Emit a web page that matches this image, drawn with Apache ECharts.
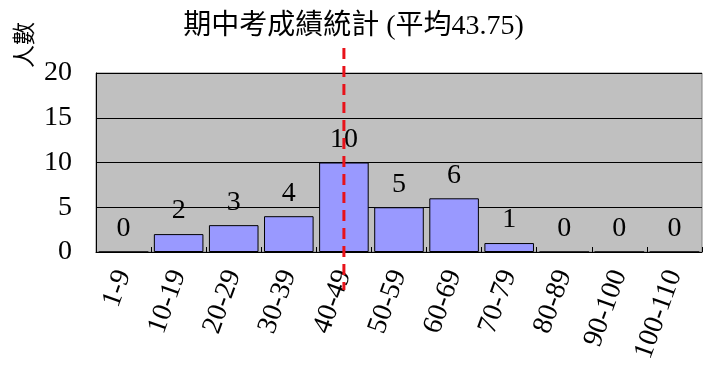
<!DOCTYPE html>
<html><head><meta charset="utf-8">
<script src="https://cdn.jsdelivr.net/npm/echarts@6/dist/echarts.min.js"></script>
<style>html,body{margin:0;padding:0;background:#fff}#c{width:707px;height:375px}</style>
</head><body><div id="c"></div>
<script>
const categories = ['1-9','10-19','20-29','30-39','40-49','50-59','60-69','70-79','80-89','90-100','100-110'];
const counts = [0,2,3,4,10,5,6,1,0,0,0];
const meanCategory = '40-49';
const yTicks = {min:0, max:20, interval:5};
const titleText = '期中考成績統計 (平均43.75)';
const yName = '人數';

const FONT = '"Liberation Serif", "Noto Sans CJK TC", serif';
const chart = echarts.init(document.getElementById('c'));
chart.setOption({
  animation:false,
  title:{text:titleText, left:'center', top:8,
    textStyle:{fontFamily:FONT, fontSize:28, fontWeight:'normal', color:'#000'}},
  graphic:[{type:'text', left:12, top:22, rotation:Math.PI/2,
    style:{text:yName, font:'23px "Noto Sans CJK TC", serif', fill:'#000'}}],
  grid:{left:96, right:5, top:73, bottom:123, show:true, backgroundColor:'#c0c0c0', borderColor:'#808080', borderWidth:1},
  xAxis:{type:'category', data:categories,
    axisLine:{lineStyle:{color:'#000', width:1}},
    axisTick:{show:true, inside:true, length:5, lineStyle:{color:'#000'}},
    axisLabel:{rotate:70, margin:19, fontFamily:FONT, fontSize:28, color:'#000', interval:0}},
  yAxis:{type:'value', min:yTicks.min, max:yTicks.max, interval:yTicks.interval,
    axisLine:{show:true, lineStyle:{color:'#000'}},
    axisTick:{show:false},
    splitLine:{lineStyle:{color:'#000', width:1}},
    axisLabel:{fontFamily:FONT, fontSize:28, color:'#000', margin:24}},
  series:[
    {type:'bar', data:counts, barCategoryGap:'10%',
      itemStyle:{color:'#9999ff', borderColor:'#000', borderWidth:1},
      label:{show:true, position:'top', distance:9, fontFamily:FONT, fontSize:28, color:'#000'}},
    {type:'custom', clip:false, silent:true, z:10,
      data:[[meanCategory, 0]],
      renderItem:function(params, api){
        const x = api.coord([api.value(0), 0])[0];
        const top = api.coord([api.value(0), yTicks.max])[1];
        const bot = api.coord([api.value(0), yTicks.min])[1];
        return {type:'line', shape:{x1:x, y1:top-25, x2:x, y2:bot+38},
          style:{stroke:'#e8121a', lineWidth:3, lineDash:[11,7]}};
      }}
  ]
});
</script></body></html>
